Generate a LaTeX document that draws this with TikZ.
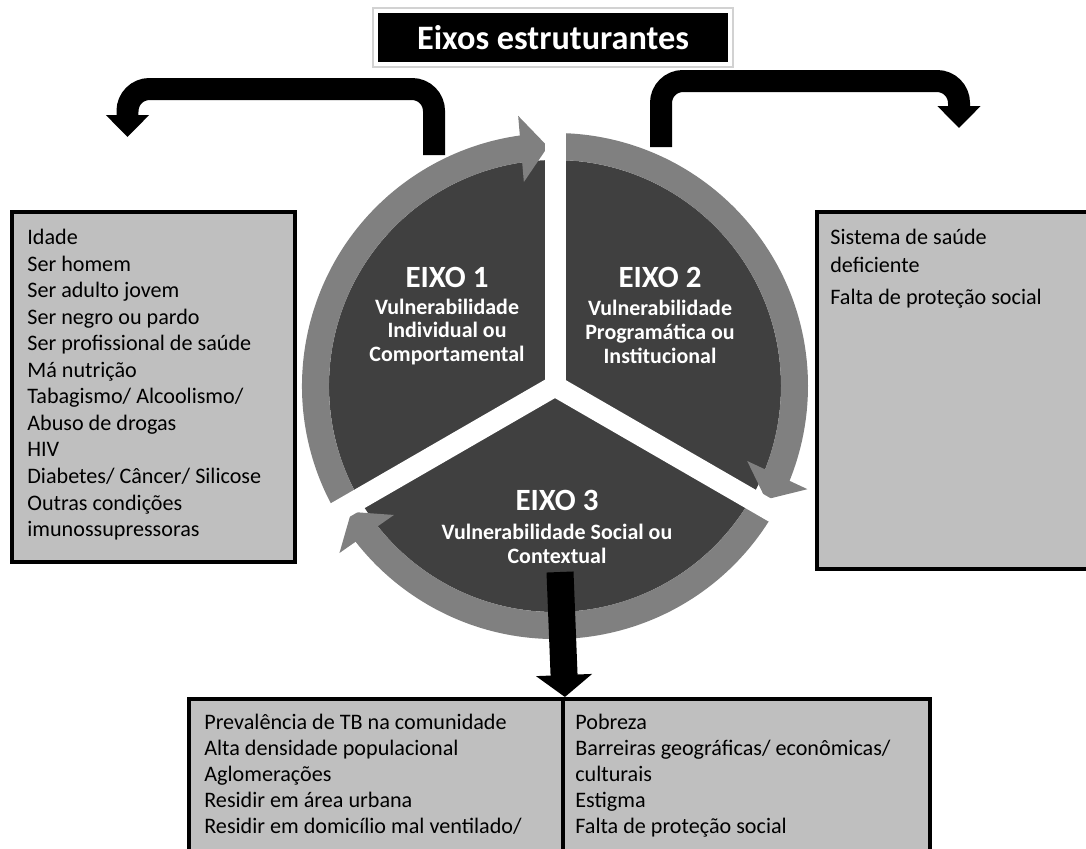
\documentclass[tikz,border=0pt]{standalone}
\usepackage{fontspec}
\setmainfont{Carlito}
\usepackage{tikz}
\usetikzlibrary{arrows.meta,bending,positioning}
\definecolor{eixodark}{HTML}{404040}
\definecolor{eixoring}{HTML}{808080}
\definecolor{boxgray}{HTML}{BFBFBF}
\tikzset{
  factorbox/.style={draw=black, line width=0.08cm, fill=boxgray, anchor=north west, inner sep=0pt},
  factortext/.style={anchor=north west, align=left, inner sep=0pt, font=\fontsize{12.6}{15.1}\selectfont},
  eixotitle/.style={text=white, font=\bfseries\fontsize{17.6}{20}\selectfont},
  eixosub/.style={text=white, align=center, font=\bfseries\fontsize{12.5}{13.6}\selectfont},
  ringarrow/.style={eixoring, line width=0.54cm, -{Triangle[width=1.3cm,length=0.54cm]}},
  gapline/.style={white, line width=0.42cm, line cap=round},
  bentarrow/.style={line width=0.44cm, rounded corners=0.44cm, -{Triangle[width=0.84cm,length=0.44cm]}}
}
\begin{document}
\begin{tikzpicture}[x=0.02cm,y=-0.02cm]
\useasboundingbox (0,0) rectangle (1086,849);
\clip (0,0) rectangle (1086,849);
%title
\node[draw=gray!35, line width=0.04cm, fill=white, minimum width=7.2cm, minimum height=1.18cm] (frame) at (553,37.5) {};
\node[fill=black, text=white, minimum width=7cm, minimum height=0.98cm, font=\bfseries\fontsize{19.5}{22}\selectfont] (title) at (553,37.5) {Eixos estruturantes};
%disc and ring arrows
\coordinate (ctr) at (555,386);
\fill[eixodark] (ctr) circle (226);
\draw[ringarrow] (ctr) ++(150:239.5) arc[start angle=150, end angle=268.3, radius=239.5];
\draw[ringarrow] (ctr) ++(270:239.5) arc[start angle=270, end angle=388.3, radius=239.5];
\draw[ringarrow] (ctr) ++(30:239.5) arc[start angle=30, end angle=148.3, radius=239.5];
%gaps between the three parts
\draw[gapline] (ctr) -- ++(270:275);
\draw[gapline] (ctr) -- ++(30:275);
\draw[gapline] (ctr) -- ++(150:275);
%labels of the axes
\node[eixotitle] (eixoI) at (447,277) {EIXO 1};
\node[eixosub] (subI) at (447,332) {Vulnerabilidade\\Individual ou\\Comportamental};
\node[eixotitle] (eixoII) at (660,277) {EIXO 2};
\node[eixosub] (subII) at (660,332) {Vulnerabilidade\\Programática ou\\Institucional};
\node[eixotitle] (eixoIII) at (557,500) {EIXO 3};
\node[eixosub] (subIII) at (557,543.5) {Vulnerabilidade Social ou\\Contextual};
%boxes
\node[factorbox, minimum width=5.66cm, minimum height=7cm] (boxind) at (10,210) {};
\node[factorbox, minimum width=5.8cm, minimum height=7.14cm] (boxprog) at (815,210) {};
\node[factorbox, minimum width=7.48cm, minimum height=3.6cm] (boxsoc) at (187,697) {};
\node[factorbox, minimum width=7.34cm, minimum height=3.6cm] (boxcont) at (561,697) {};
%texts in the boxes
\node[factortext] (txtind) at (27,229) {Idade\\Ser homem\\Ser adulto jovem\\Ser negro ou pardo\\Ser profissional de saúde\\Má nutrição\\Tabagismo/ Alcoolismo/\\Abuso de drogas\\HIV\\Diabetes/ Câncer/ Silicose\\Outras condições\\imunossupressoras};
\node[factortext, font=\fontsize{12.6}{15.9}\selectfont] (txtprog) at (830,229) {Sistema de saúde\\deficiente\\[2.3pt]Falta de proteção social};
\node[factortext, font=\fontsize{12.6}{14.7}\selectfont] (txtsoc) at (204,714) {Prevalência de TB na comunidade\\Alta densidade populacional\\Aglomerações\\Residir em área urbana\\Residir em domicílio mal ventilado/};
\node[factortext, font=\fontsize{12.6}{14.7}\selectfont] (txtcont) at (575,714) {Pobreza\\Barreiras geográficas/ econômicas/\\culturais\\Estigma\\Falta de proteção social};
%black arrows
\coordinate (indstart) at (434,155); \coordinate (indend) at (127.5,137);
\draw[bentarrow] (indstart) -- (434,89) -| (indend);
\coordinate (progstart) at (661,147); \coordinate (progend) at (959,128);
\draw[bentarrow] (progstart) -- (661,81) -| (progend);
\coordinate (socstart) at (560,572);
\draw[line width=0.54cm, -{Triangle[width=1.1cm,length=0.44cm]}] (socstart) -- (boxsoc.north east);
\end{tikzpicture}
\end{document}
